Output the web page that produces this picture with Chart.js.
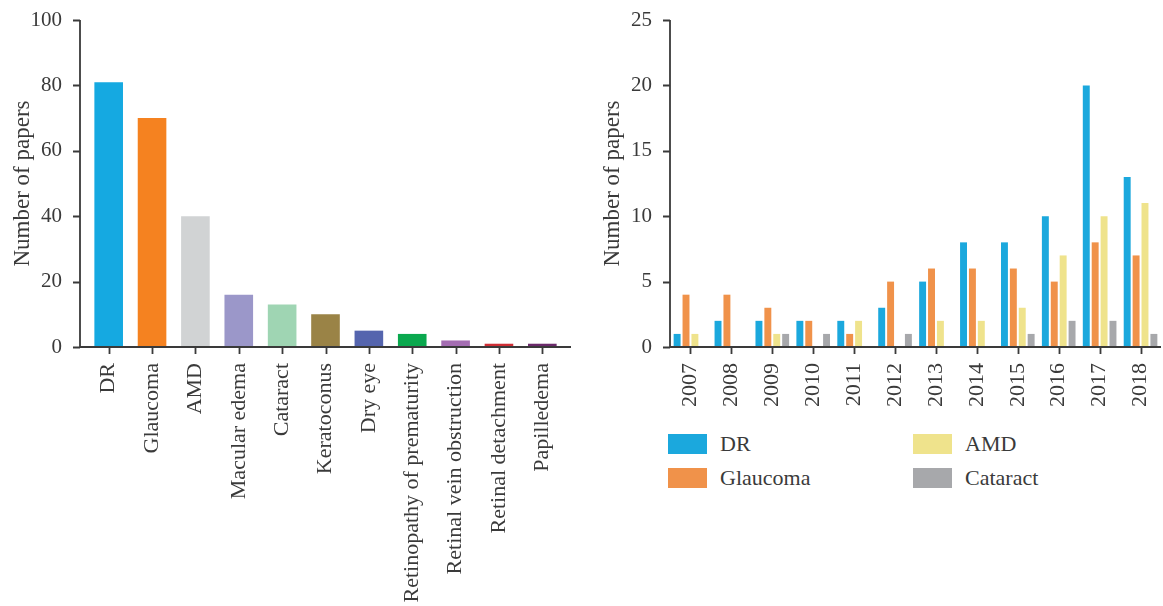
<!DOCTYPE html>
<html>
<head>
<meta charset="utf-8">
<script src="https://cdn.jsdelivr.net/npm/chart.js@4/dist/chart.umd.min.js"></script>
<style>
  html, body { margin: 0; padding: 0; background: #ffffff; }
  body { width: 1163px; height: 606px; position: relative; overflow: hidden; }
  #left { position: absolute; left: 0; top: 0; }
  #right { position: absolute; left: 590px; top: 0; }
  #legend { position: absolute; left: 668px; top: 434px; width: 480px; height: 60px;
            font-family: 'Liberation Serif', 'Times New Roman', serif; font-size: 22px; color: #3a3a3a; }
  .item { position: absolute; display: flex; align-items: center; height: 20px; white-space: nowrap; }
  .sw { width: 39px; height: 20px; margin-right: 13px; flex: none; }
</style>
</head>
<body>
<canvas id="left" width="590" height="606"></canvas>
<canvas id="right" width="573" height="430"></canvas>
<div id="legend"></div>
<script>
// Papers per eye disease
const diseases = ['DR', 'Glaucoma', 'AMD', 'Macular edema', 'Cataract', 'Keratoconus', 'Dry eye',
  'Retinopathy of prematurity', 'Retinal vein obstruction', 'Retinal detachment', 'Papilledema'];
const diseasePapers = [81, 70, 40, 16, 13, 10, 5, 4, 2, 1, 1];
const diseaseColors = ['#15a9e1', '#f58220', '#d1d3d4', '#9b97c9', '#9fd5b3', '#9a8346', '#5565ae',
  '#0aa84e', '#a46db2', '#cf2e35', '#6b2a6b'];

// Papers per year for the four main diseases
const years = ['2007', '2008', '2009', '2010', '2011', '2012', '2013', '2014', '2015', '2016', '2017', '2018'];
const drByYear       = [1, 2, 2, 2, 2, 3, 5, 8, 8, 10, 20, 13];
const glaucomaByYear = [4, 4, 3, 2, 1, 5, 6, 6, 6, 5, 8, 7];
const amdByYear      = [1, 0, 1, 0, 2, 0, 2, 2, 3, 7, 10, 11];
const cataractByYear = [0, 0, 1, 1, 0, 1, 0, 0, 1, 2, 2, 1];
const seriesNames  = ['DR', 'Glaucoma', 'AMD', 'Cataract'];
const seriesColors = ['#1ba8dd', '#f0924a', '#efe38c', '#a7a8ab'];

const TEXT = '#3a3a3a';
Chart.defaults.font.family = "'Liberation Serif', 'Times New Roman', serif";
Chart.defaults.color = TEXT;
Chart.defaults.animation = false;

// Draws the L-shaped axis frame with outward tick marks; `gap` pulls the
// frame away from the plotting area on both horizontal ends.
const axisFrame = {
  id: 'axisFrame',
  afterDatasetsDraw(chart, args, opts) {
    const { ctx, chartArea: a, scales: { x, y } } = chart;
    const g = opts.gap || 0;
    const x0 = a.left - g;
    const y0 = y.getPixelForValue(0);
    const yTop = y.getPixelForValue(y.max);
    ctx.save();
    ctx.strokeStyle = opts.color;
    ctx.lineWidth = opts.width;
    ctx.beginPath();
    ctx.moveTo(x0, yTop);
    ctx.lineTo(x0, y0);
    ctx.lineTo(a.right + g, y0);
    y.ticks.forEach(t => {
      const py = Math.round(y.getPixelForValue(t.value)) + 0.5;
      ctx.moveTo(x0 - opts.tick, py);
      ctx.lineTo(x0, py);
    });
    x.ticks.forEach((t, i) => {
      const px = Math.round(x.getPixelForTick(i)) + 0.5;
      ctx.moveTo(px, y0);
      ctx.lineTo(px, y0 + opts.tick);
    });
    ctx.stroke();
    ctx.restore();
  }
};

function scalesFor(yMax, yStep, yWidth, xHeight, yPad) {
  return {
    x: {
      offset: true,
      grid: { display: false, drawTicks: false },
      border: { display: false },
      ticks: { minRotation: 90, maxRotation: 90, padding: 16, font: { size: 22 }, color: TEXT, autoSkip: false },
      afterFit: s => { s.height = xHeight; s.paddingLeft = 0; s.paddingRight = 0; }
    },
    y: {
      min: 0, max: yMax,
      grid: { display: false, drawTicks: false },
      border: { display: false },
      ticks: { stepSize: yStep, padding: yPad, font: { size: 21 }, color: TEXT },
      title: { display: true, text: 'Number of papers', font: { size: 23 }, color: TEXT, padding: { top: 9, bottom: 0 } },
      afterFit: s => { s.width = yWidth; s.paddingTop = 0; s.paddingBottom = 0; }
    }
  };
}

new Chart(document.getElementById('left'), {
  type: 'bar',
  data: {
    labels: diseases,
    datasets: [{ data: diseasePapers, backgroundColor: diseaseColors, barPercentage: 0.66, categoryPercentage: 1 }]
  },
  options: {
    responsive: false,
    devicePixelRatio: 1,
    layout: { padding: { top: 20, right: 26, left: 0, bottom: 0 } },
    plugins: { legend: { display: false }, tooltip: { enabled: false },
      axisFrame: { gap: 7, color: TEXT, width: 1.8, tick: 7 } },
    scales: scalesFor(100, 20, 87, 259, 25)
  },
  plugins: [axisFrame]
});

const yearly = [drByYear, glaucomaByYear, amdByYear, cataractByYear];
const rightChart = new Chart(document.getElementById('right'), {
  type: 'bar',
  data: {
    labels: years,
    datasets: yearly.map((vals, i) => ({
      label: seriesNames[i], data: vals, backgroundColor: seriesColors[i],
      barPercentage: 0.78, categoryPercentage: 0.87
    }))
  },
  options: {
    responsive: false,
    devicePixelRatio: 1,
    layout: { padding: { top: 20, right: 2, left: 0, bottom: 0 } },
    plugins: { legend: { display: false }, tooltip: { enabled: false },
      axisFrame: { gap: 0, color: TEXT, width: 1.8, tick: 7 } },
    scales: scalesFor(25, 5, 80, 83, 18)
  },
  plugins: [axisFrame]
});

// Two-column legend, filled column by column
const legend = document.getElementById('legend');
rightChart.data.datasets.forEach((ds, i) => {
  const item = document.createElement('div');
  item.className = 'item';
  item.style.left = (Math.floor(i / 2) * 245) + 'px';
  item.style.top = ((i % 2) * 34) + 'px';
  const sw = document.createElement('span');
  sw.className = 'sw';
  sw.style.background = ds.backgroundColor;
  const tx = document.createElement('span');
  tx.textContent = ds.label;
  item.appendChild(sw);
  item.appendChild(tx);
  legend.appendChild(item);
});
</script>
</body>
</html>
